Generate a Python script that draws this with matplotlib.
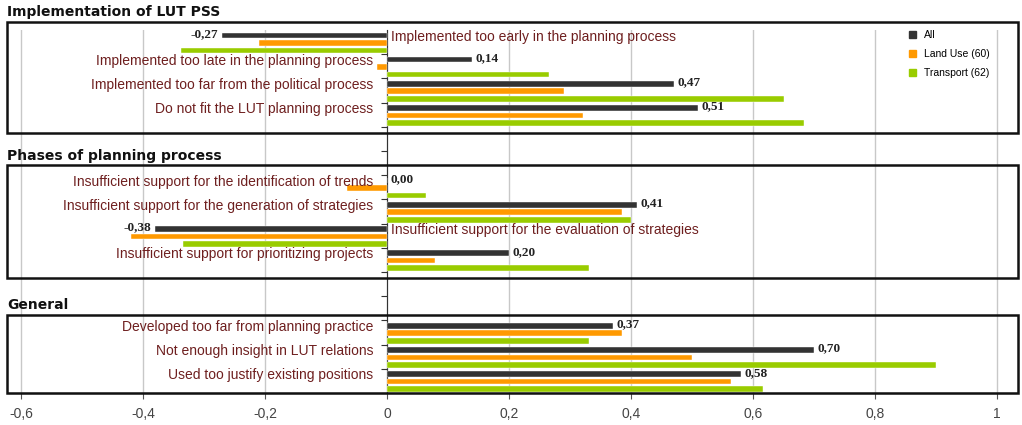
import matplotlib
matplotlib.use('Agg')
import matplotlib.pyplot as plt
from matplotlib.patches import Rectangle
from matplotlib.ticker import FixedLocator, FuncFormatter

# slots of the horizontal layout (None = empty slot between sections)
labels = [
    'Implemented too early in the planning process',
    'Implemented too late in the planning process',
    'Implemented too far from the political process',
    'Do not fit the LUT planning process',
    None, None,
    'Insufficient support for the identification of trends',
    'Insufficient support for the generation of strategies',
    'Insufficient support for the evaluation of strategies',
    'Insufficient support for prioritizing projects',
    None, None,
    'Developed too far from planning practice',
    'Not enough insight in LUT relations',
    'Used too justify existing positions',
]
all_vals = [-0.27, 0.14, 0.47, 0.51, None, None, 0.00, 0.41, -0.38, 0.20, None, None, 0.37, 0.70, 0.58]
landuse = [-0.21, -0.017, 0.29, 0.322, None, None, -0.065, 0.385, -0.42, 0.078, None, None, 0.385, 0.50, 0.564]
transport = [-0.338, 0.266, 0.65, 0.683, None, None, 0.064, 0.40, -0.334, 0.332, None, None, 0.332, 0.90, 0.617]

sections = ['Implementation of LUT PSS', 'Phases of planning process', 'General']

c_all = '#333333'
c_lu = '#ff9900'
c_tr = '#99cc00'
c_txt = '#6e1f1f'

fig = plt.figure(figsize=(10.22, 4.25), dpi=100)
ax = fig.add_axes([8 / 1022, 1 - 393 / 425, 1008 / 1022, 363 / 425])

n = len(labels)
h = 0.23
for i in range(n):
    if labels[i] is None:
        continue
    ax.barh(i + 0.22, all_vals[i], height=h, color=c_all, edgecolor='white', linewidth=0.3, zorder=3)
    ax.barh(i + 0.53, landuse[i], height=h, color=c_lu, edgecolor='white', linewidth=0.3, zorder=3)
    ax.barh(i + 0.84, transport[i], height=h, color=c_tr, edgecolor='white', linewidth=0.3, zorder=3)
    v = all_vals[i]
    txt = ('%.2f' % v).replace('.', ',')
    if v < 0:
        ax.text(v - 0.006, i + 0.16, txt, ha='right', va='center', fontsize=9.5,
                fontweight='bold', family='Liberation Serif', color='#222222', zorder=4)
        ax.text(0.007, i + 0.27, labels[i], ha='left', va='center', fontsize=10,
                family='Liberation Sans', color=c_txt, zorder=4)
    else:
        ax.text(v + 0.006, i + 0.16, txt, ha='left', va='center', fontsize=9.5,
                fontweight='bold', family='Liberation Serif', color='#222222', zorder=4)
        ax.text(-0.022, i + 0.27, labels[i], ha='right', va='center', fontsize=10,
                family='Liberation Sans', color=c_txt, zorder=4)

ax.set_xlim(-0.621, 1.031)
ax.set_ylim(n, 0)

ax.set_xticks([-0.6, -0.4, -0.2, 0, 0.2, 0.4, 0.6, 0.8, 1.0])
ax.xaxis.set_major_formatter(FuncFormatter(lambda x, p: ('%g' % round(x, 1)).replace('.', ',')))
ax.tick_params(axis='x', length=4, color='#555555', labelsize=10, labelcolor='#444444', pad=6)
for lab in ax.get_xticklabels():
    lab.set_family('Liberation Sans')

ax.yaxis.set_major_locator(FixedLocator(range(1, n + 1)))
ax.set_yticklabels([])
ax.tick_params(axis='y', length=4, color='#333333')
ax.spines['left'].set_position(('data', 0))
ax.spines['left'].set_color('#333333')
ax.spines['top'].set_visible(False)
ax.spines['right'].set_visible(False)
ax.spines['bottom'].set_color('#333333')
ax.grid(axis='x', color='#c8c8c8', linewidth=1, zorder=0)
ax.set_axisbelow(True)

# legend
handles = [Rectangle((0, 0), 1, 1, color=c) for c in (c_all, c_lu, c_tr)]
leg = ax.legend(handles, ['All', 'Land Use (60)', 'Transport (62)'], loc='upper right',
                bbox_to_anchor=(0.982, 1.022), frameon=True, handlelength=0.7,
                handleheight=0.7, handletextpad=0.7, labelspacing=0.85, borderpad=0.3,
                prop={'family': 'Liberation Sans', 'size': 7.5})
leg.get_frame().set_edgecolor('white')
leg.get_frame().set_facecolor('white')
leg.get_frame().set_alpha(1)
leg.set_zorder(5)

# section boxes and headers (pixel positions from top)
boxes = [(22, 133), (165, 278), (315, 393)]
heads = [12, 156, 305]
for (t, b), hy, name in zip(boxes, heads, sections):
    fig.patches.append(Rectangle((7 / 1022, 1 - b / 425), 1011 / 1022, (b - t) / 425,
                                 transform=fig.transFigure, fill=False,
                                 edgecolor='#111111', linewidth=1.8, zorder=6))
    fig.text(7 / 1022, 1 - hy / 425, name, ha='left', va='center', fontsize=10,
             fontweight='bold', family='DejaVu Sans', color='#111111')

fig.savefig('out.png', dpi=100)
